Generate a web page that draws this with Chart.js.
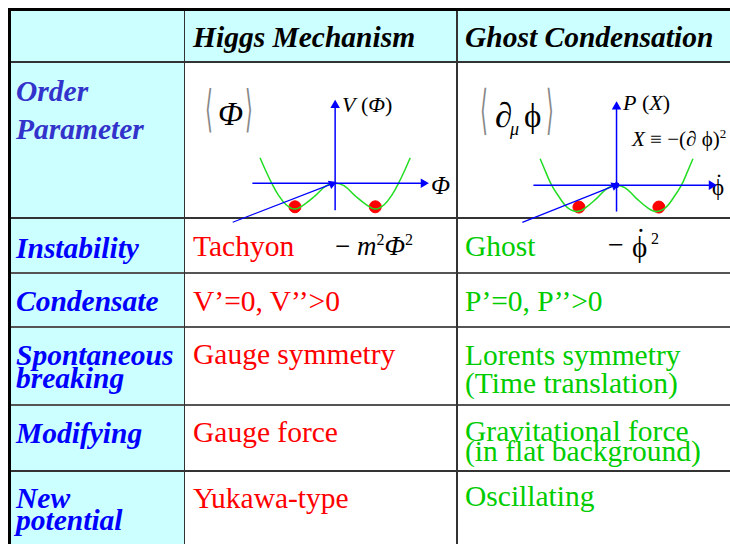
<!DOCTYPE html>
<html>
<head>
<meta charset="utf-8">
<script src="https://cdn.jsdelivr.net/npm/chart.js@4"></script>
<style>
  body { margin: 0; width: 730px; height: 544px; overflow: hidden; background: #fff; position: relative; }
  .abs { position: absolute; white-space: nowrap; line-height: 1; }
  .hd { font: bold italic 29.5px 'Liberation Serif', serif; color: #000; }
  .lbl { font: bold italic 29.5px 'Liberation Serif', serif; color: #0000ff; }
  .red { font: 29.5px 'Liberation Serif', serif; color: #ff0000; }
  .grn { font: 29.5px 'Liberation Serif', serif; color: #00cc00; }
  .math { font-family: 'Liberation Serif', serif; color: #000; }
  .br { font-family: 'DejaVu Sans', sans-serif; color: #888; font-size: 20px; transform-origin: left top; transform: scaleY(2.5); }
  .line { position: absolute; background: #333; }
  canvas { position: absolute; pointer-events: none; }
</style>
</head>
<body>
<!-- cell backgrounds -->
<div class="abs" style="left:8px;top:8px;width:730px;height:53px;background:#ccffff"></div>
<div class="abs" style="left:8px;top:61px;width:176px;height:490px;background:#ccffff"></div>

<!-- grid lines -->
<div class="line" style="left:8px;top:61px;width:730px;height:1.5px"></div>
<div class="line" style="left:8px;top:217px;width:730px;height:1.5px"></div>
<div class="line" style="left:8px;top:272px;width:730px;height:2px;background:#555"></div>
<div class="line" style="left:8px;top:326px;width:730px;height:2px;background:#555"></div>
<div class="line" style="left:8px;top:404px;width:730px;height:2px;background:#555"></div>
<div class="line" style="left:8px;top:470px;width:730px;height:1.5px"></div>
<div class="line" style="left:183.5px;top:8px;width:1.5px;height:540px"></div>
<div class="line" style="left:456px;top:8px;width:1.5px;height:540px"></div>
<div class="line" style="left:8px;top:8px;width:2.5px;height:540px;background:#000"></div>
<div class="line" style="left:8px;top:8px;width:730px;height:2.5px;background:#000"></div>

<!-- header -->
<div class="abs hd" style="left:193px;top:21.3px">Higgs Mechanism</div>
<div class="abs hd" style="left:465px;top:21.3px">Ghost Condensation</div>

<!-- row labels -->
<div class="abs lbl" style="left:16px;top:75.3px;color:#3333cc">Order</div>
<div class="abs lbl" style="left:16px;top:113.3px;color:#3333cc">Parameter</div>
<div class="abs lbl" style="left:16px;top:232.3px">Instability</div>
<div class="abs lbl" style="left:16px;top:285.3px">Condensate</div>
<div class="abs lbl" style="left:16px;top:339.3px">Spontaneous</div>
<div class="abs lbl" style="left:16px;top:361.8px">breaking</div>
<div class="abs lbl" style="left:16px;top:416.8px">Modifying</div>
<div class="abs lbl" style="left:16px;top:481.8px">New</div>
<div class="abs lbl" style="left:16px;top:503.8px">potential</div>

<!-- Higgs column -->
<div class="abs red" style="left:193px;top:230.3px">Tachyon</div>
<div class="abs red" style="left:193px;top:284.6px">V’=0, V’’&gt;0</div>
<div class="abs red" style="left:193px;top:338.3px">Gauge symmetry</div>
<div class="abs red" style="left:193px;top:416.3px">Gauge force</div>
<div class="abs red" style="left:193px;top:482px">Yukawa-type</div>

<!-- Ghost column -->
<div class="abs grn" style="left:465px;top:230.3px">Ghost</div>
<div class="abs grn" style="left:465px;top:284.6px">P’=0, P’’&gt;0</div>
<div class="abs grn" style="left:465px;top:338.6px">Lorents symmetry</div>
<div class="abs grn" style="left:465px;top:367px">(Time translation)</div>
<div class="abs grn" style="left:465px;top:415.3px">Gravitational force</div>
<div class="abs grn" style="left:465px;top:435.3px">(in flat background)</div>
<div class="abs grn" style="left:465px;top:480.3px">Oscillating</div>

<!-- math, Higgs -->
<div class="abs br" style="left:205px;top:83px">⟨</div>
<div class="abs br" style="left:245px;top:83px">⟩</div>
<div class="abs math" style="left:218px;top:98px;font-size:33px;font-style:italic">Φ</div>
<div class="abs math" style="left:342px;top:94px;font-size:22px"><i>V</i> (<i>Φ</i>)</div>
<div class="abs math" style="left:431px;top:173px;font-size:25px;font-style:italic">Φ</div>
<div class="abs math" style="left:335px;top:232px;font-size:27px">− <i>m</i><sup style="font-size:16px">2</sup><i>Φ</i><sup style="font-size:16px">2</sup></div>

<!-- math, Ghost -->
<div class="abs br" style="left:480px;top:83px;transform:scaleY(2.65)">⟨</div>
<div class="abs br" style="left:546px;top:83px;transform:scaleY(2.65)">⟩</div>
<div class="abs math" style="left:495px;top:98px;font-size:35px">∂</div>
<div class="abs math" style="left:510px;top:120px;font-size:18px;font-style:italic">μ</div>
<div class="abs math" style="left:524px;top:100px;font-size:33px">ϕ</div>
<div class="abs math" style="left:623px;top:92px;font-size:22px"><i>P</i> (<i>X</i>)</div>
<div class="abs math" style="left:632px;top:127px;font-size:21px"><i>X</i> ≡ −(∂ ϕ)<sup style="font-size:13px">2</sup></div>
<div class="abs math" style="left:712px;top:176px;font-size:23px">ϕ</div>
<div class="abs math" style="left:715px;top:170px;font-size:24px">˙</div>
<div class="abs math" style="left:608px;top:231px;font-size:28px">−</div>
<div class="abs math" style="left:632px;top:233px;font-size:29px">ϕ</div>
<div class="abs math" style="left:636px;top:225px;font-size:29px">˙</div>
<div class="abs math" style="left:651px;top:231px;font-size:16px">2</div>

<canvas id="higgs" width="255" height="151" style="left:200px;top:90px"></canvas>
<canvas id="ghost" width="240" height="157" style="left:490px;top:88px"></canvas>

<script>
// Higgs potential V(Phi), minima at Phi = +-1
const higgsPhi = [-1.87, -1.73, -1.58, -1.42, -1.22, -1.0, -0.78, -0.5, -0.22, 0, 0.22, 0.5, 0.78, 1.0, 1.22, 1.42, 1.58, 1.73, 1.87];
const higgsV   = [1.0, 0.5, 0.0, -0.45, -0.85, -1.02, -0.85, -0.5, -0.1, 0, -0.1, -0.5, -0.85, -1.02, -0.85, -0.45, 0.0, 0.5, 1.0];
const higgsDotsPhi = [-1, 1];
const higgsDotsV = [-0.93, -0.93];
const higgsAxisX = [-2.06, 2.2];     // horizontal axis extent
const higgsAxisY = [-1.07, 3.07];    // vertical axis extent
const higgsPointer = [[-2.55, -1.54], [-0.08, -0.03]];

// Ghost condensate P(X) against phi-dot
const ghostPhiDot = [-1.93, -1.79, -1.64, -1.45, -1.24, -1.0, -0.78, -0.5, -0.22, 0, 0.22, 0.5, 0.78, 1.0, 1.24, 1.45, 1.64, 1.79, 1.93];
const ghostP      = [1.0, 0.5, 0.0, -0.45, -0.85, -1.0, -0.85, -0.5, -0.1, 0, -0.1, -0.5, -0.85, -1.0, -0.85, -0.45, 0.0, 0.5, 1.0];
const ghostDotsPhiDot = [-0.95, 1.07];
const ghostDotsP = [-0.83, -0.83];
const ghostAxisX = [-2.1, 2.4];
const ghostAxisY = [-1.0, 2.97];
const ghostPointer = [[-2.38, -1.41], [-0.05, -0.02]];

const BLUE = '#0000ff';
const GREEN = '#22dd22';

function pts(xs, ys) {
  return xs.map((x, i) => ({ x: x, y: ys[i] }));
}

function makePlot(id, curveX, curveY, dotsX, dotsY, axX, axY, pointer, range, centerDot) {
  const ctx = document.getElementById(id).getContext('2d');
  const arrowHead = { pointRadius: [0, 4], pointStyle: 'triangle', pointBackgroundColor: BLUE, pointBorderColor: BLUE };
  const datasets = [
    // horizontal axis
    Object.assign({ data: [{ x: axX[0], y: 0 }, { x: axX[1], y: 0 }], borderColor: BLUE, borderWidth: 1.5, showLine: true, rotation: 90 }, arrowHead),
    // vertical axis
    Object.assign({ data: [{ x: 0, y: axY[0] }, { x: 0, y: axY[1] }], borderColor: BLUE, borderWidth: 1.5, showLine: true, rotation: 0 }, arrowHead),
    // pointer from the table text to the origin
    Object.assign({ data: pointer.map(p => ({ x: p[0], y: p[1] })), borderColor: BLUE, borderWidth: 1.2, showLine: true, rotation: 68 }, arrowHead),
    // potential curve
    { data: pts(curveX, curveY), borderColor: GREEN, borderWidth: 1.5, showLine: true, tension: 0.4, pointRadius: 0 },
    // vacuum balls
    { data: pts(dotsX, dotsY), pointRadius: 6, pointBackgroundColor: '#ff0000', pointBorderColor: '#ff0000', showLine: false }
  ];
  if (centerDot) {
    datasets.push({ data: [{ x: 0, y: 0 }], pointRadius: 2.5, pointBackgroundColor: BLUE, pointBorderColor: BLUE });
  }
  datasets.forEach(d => { d.clip = false; });
  new Chart(ctx, {
    type: 'scatter',
    data: { datasets: datasets },
    options: {
      responsive: false,
      animation: false,
      layout: { padding: 0 },
      plugins: { legend: { display: false }, tooltip: { enabled: false } },
      scales: {
        x: { type: 'linear', display: false, min: range[0], max: range[1] },
        y: { type: 'linear', display: false, min: range[2], max: range[3] }
      }
    }
  });
}

makePlot('higgs', higgsPhi, higgsV, higgsDotsPhi, higgsDotsV, higgsAxisX, higgsAxisY, higgsPointer, [-3.19, 2.81, -2.0, 3.39], false);
makePlot('ghost', ghostPhiDot, ghostP, ghostDotsPhiDot, ghostDotsP, ghostAxisX, ghostAxisY, ghostPointer, [-3.02, 2.69, -2.0, 3.41], true);
</script>
</body>
</html>
